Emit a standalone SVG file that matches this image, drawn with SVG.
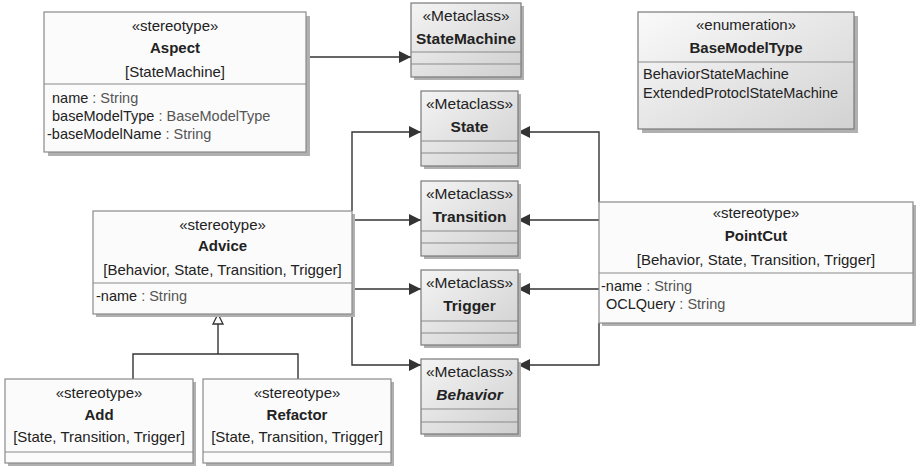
<svg xmlns="http://www.w3.org/2000/svg" width="916" height="470" viewBox="0 0 916 470">
  <defs>
    <linearGradient id="metaFill" x1="0" y1="0" x2="1" y2="1">
      <stop offset="0" stop-color="#f4f4f4"/>
      <stop offset="1" stop-color="#cfcfcf"/>
    </linearGradient>
    <linearGradient id="enumFill" x1="0" y1="0" x2="1" y2="1">
      <stop offset="0" stop-color="#fafafa"/>
      <stop offset="1" stop-color="#d2d2d2"/>
    </linearGradient>
    <marker id="arrow" markerUnits="userSpaceOnUse" markerWidth="13" markerHeight="13" refX="12" refY="6" orient="auto">
      <path d="M0,0 L12,6 L0,12 Z" fill="#333"/>
    </marker>
  </defs>
  <style>
    text { font-family: "Liberation Sans", Arial, sans-serif; fill: #222; }
    .st { font-size: 15px; text-anchor: middle; }
    .nm { font-size: 15px; font-weight: bold; text-anchor: middle; }
    .br { font-size: 15px; text-anchor: middle; }
    .at { font-size: 14.5px; }
    .ty { fill: #555; }
    .mt { font-size: 15.5px; text-anchor: middle; }
    .mn { font-size: 15.5px; font-weight: bold; text-anchor: middle; }
    .shadow { fill: #b0b0b0; }
    .box { fill: #fbfbfb; stroke: #8a8a8a; stroke-width: 1.2; }
    .meta { fill: url(#metaFill); stroke: #7a7a7a; stroke-width: 1.2; }
    .enum { fill: url(#enumFill); stroke: #7a7a7a; stroke-width: 1.2; }
    .div { stroke: #8a8a8a; stroke-width: 1.2; fill: none; }
    .conn { fill: none; stroke: #333; stroke-width: 1.4; }
  </style>

  <rect width="916" height="470" fill="#ffffff"/>

  <!-- Connectors -->
  <g id="connectors">
    <path class="conn" d="M306,57 H411" marker-end="url(#arrow)"/>
    <path class="conn" d="M352,211 V132 H421" marker-end="url(#arrow)"/>
    <path class="conn" d="M352,220 H421" marker-end="url(#arrow)"/>
    <path class="conn" d="M352,289 H421" marker-end="url(#arrow)"/>
    <path class="conn" d="M352,314 V365 H421" marker-end="url(#arrow)"/>
    <path class="conn" d="M599,202 V132 H518" marker-end="url(#arrow)"/>
    <path class="conn" d="M599,220 H518" marker-end="url(#arrow)"/>
    <path class="conn" d="M599,289 H518" marker-end="url(#arrow)"/>
    <path class="conn" d="M599,323 V365 H518" marker-end="url(#arrow)"/>
    <!-- generalization: Add / Refactor to Advice -->
    <path class="conn" d="M133,379 V354 H298 V379"/>
    <path class="conn" d="M218,354 V324"/>
    <path d="M218,314 L213,324 L223,324 Z" fill="#ffffff" stroke="#333" stroke-width="1.3"/>
  </g>

  <!-- Aspect -->
  <g id="aspect">
    <rect class="shadow" x="48" y="16" width="262" height="140"/>
    <rect class="box" x="44" y="12" width="262" height="140"/>
    <line class="div" x1="44" y1="84" x2="306" y2="84"/>
    <text class="st" x="175" y="31">«stereotype»</text>
    <text class="nm" x="175" y="53">Aspect</text>
    <text class="br" x="175" y="77">[StateMachine]</text>
    <text class="at" x="52" y="103">name<tspan class="ty"> : String</tspan></text>
    <text class="at" x="52" y="121">baseModelType<tspan class="ty"> : BaseModelType</tspan></text>
    <text class="at" x="47" y="139">-baseModelName<tspan class="ty"> : String</tspan></text>
  </g>

  <!-- StateMachine metaclass -->
  <g id="stateMachine">
    <rect class="shadow" x="414" y="6" width="110" height="74"/>
    <rect class="meta" x="411" y="3" width="110" height="74"/>
    <line class="div" x1="411" y1="52" x2="521" y2="52"/>
    <line class="div" x1="411" y1="64" x2="521" y2="64"/>
    <text class="mt" x="466" y="21">«Metaclass»</text>
    <text class="mn" x="466" y="44">StateMachine</text>
  </g>

  <!-- BaseModelType enumeration -->
  <g id="baseModelType">
    <rect class="shadow" x="642" y="16" width="216" height="117"/>
    <rect class="enum" x="638" y="12" width="216" height="117"/>
    <line class="div" x1="638" y1="62" x2="854" y2="62"/>
    <text class="st" x="746" y="30">«enumeration»</text>
    <text class="nm" x="746" y="53">BaseModelType</text>
    <text class="at" x="643" y="79">BehaviorStateMachine</text>
    <text class="at" x="643" y="98">ExtendedProtoclStateMachine</text>
  </g>

  <!-- State metaclass -->
  <g id="state">
    <rect class="shadow" x="424" y="94" width="97" height="75"/>
    <rect class="meta" x="421" y="91" width="97" height="75"/>
    <line class="div" x1="421" y1="141" x2="518" y2="141"/>
    <line class="div" x1="421" y1="153" x2="518" y2="153"/>
    <text class="mt" x="469.5" y="109">«Metaclass»</text>
    <text class="mn" x="469.5" y="132">State</text>
  </g>

  <!-- Transition metaclass -->
  <g id="transition">
    <rect class="shadow" x="424" y="184" width="97" height="75"/>
    <rect class="meta" x="421" y="181" width="97" height="75"/>
    <line class="div" x1="421" y1="231" x2="518" y2="231"/>
    <line class="div" x1="421" y1="243" x2="518" y2="243"/>
    <text class="mt" x="469.5" y="199">«Metaclass»</text>
    <text class="mn" x="469.5" y="222">Transition</text>
  </g>

  <!-- Trigger metaclass -->
  <g id="trigger">
    <rect class="shadow" x="424" y="273" width="97" height="75"/>
    <rect class="meta" x="421" y="270" width="97" height="75"/>
    <line class="div" x1="421" y1="321" x2="518" y2="321"/>
    <line class="div" x1="421" y1="333" x2="518" y2="333"/>
    <text class="mt" x="469.5" y="288">«Metaclass»</text>
    <text class="mn" x="469.5" y="311">Trigger</text>
  </g>

  <!-- Behavior metaclass (abstract) -->
  <g id="behavior">
    <rect class="shadow" x="424" y="362" width="97" height="75"/>
    <rect class="meta" x="421" y="359" width="97" height="75"/>
    <line class="div" x1="421" y1="409" x2="518" y2="409"/>
    <line class="div" x1="421" y1="422" x2="518" y2="422"/>
    <text class="mt" x="469.5" y="377">«Metaclass»</text>
    <text class="mn" x="469.5" y="400" font-style="italic">Behavior</text>
  </g>

  <!-- Advice -->
  <g id="advice">
    <rect class="shadow" x="96" y="214" width="259" height="103"/>
    <rect class="box" x="93" y="211" width="259" height="103"/>
    <line class="div" x1="93" y1="283" x2="352" y2="283"/>
    <text class="st" x="222.5" y="230">«stereotype»</text>
    <text class="nm" x="222.5" y="251">Advice</text>
    <text class="br" x="222.5" y="275">[Behavior, State, Transition, Trigger]</text>
    <text class="at" x="96" y="301">-name<tspan class="ty"> : String</tspan></text>
  </g>

  <!-- PointCut -->
  <g id="pointCut">
    <rect class="shadow" x="602" y="205" width="314" height="121"/>
    <rect class="box" x="599" y="202" width="314" height="121"/>
    <line class="div" x1="599" y1="273" x2="913" y2="273"/>
    <text class="st" x="756" y="218">«stereotype»</text>
    <text class="nm" x="756" y="241">PointCut</text>
    <text class="br" x="756" y="265">[Behavior, State, Transition, Trigger]</text>
    <text class="at" x="601" y="291">-name<tspan class="ty"> : String</tspan></text>
    <text class="at" x="606" y="309">OCLQuery<tspan class="ty"> : String</tspan></text>
  </g>

  <!-- Add -->
  <g id="add">
    <rect class="shadow" x="8" y="382" width="188" height="84"/>
    <rect class="box" x="5" y="379" width="188" height="84"/>
    <line class="div" x1="5" y1="452" x2="193" y2="452"/>
    <text class="st" x="99" y="398">«stereotype»</text>
    <text class="nm" x="99" y="420">Add</text>
    <text class="br" x="99" y="442">[State, Transition, Trigger]</text>
  </g>

  <!-- Refactor -->
  <g id="refactor">
    <rect class="shadow" x="206" y="382" width="188" height="84"/>
    <rect class="box" x="203" y="379" width="188" height="84"/>
    <line class="div" x1="203" y1="452" x2="391" y2="452"/>
    <text class="st" x="297" y="398">«stereotype»</text>
    <text class="nm" x="297" y="420">Refactor</text>
    <text class="br" x="297" y="442">[State, Transition, Trigger]</text>
  </g>
</svg>
